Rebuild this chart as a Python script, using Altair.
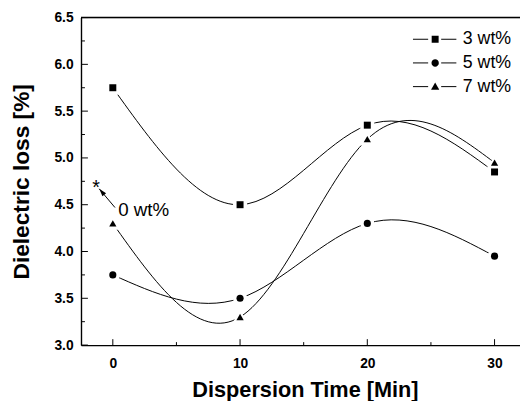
import altair as alt
import pandas as pd

# ---- data ----
times = [0, 10, 20, 30]
series_names = ["3 wt%", "5 wt%", "7 wt%"]
loss_3wt = [5.75, 4.50, 5.35, 4.85]
loss_5wt = [3.75, 3.50, 4.30, 3.95]
loss_7wt = [4.30, 3.30, 5.20, 4.95]

x_major = [0, 10, 20, 30]
x_minor = [5, 15, 25]
y_major = [3.0, 3.5, 4.0, 4.5, 5.0, 5.5, 6.0, 6.5]
y_minor = [3.25, 3.75, 4.25, 4.75, 5.25, 5.75, 6.25]

# annotation: 0 wt% reference value and its label/arrow
star_x = [-1.32]
star_y = [4.73]
label_x = [0.42]
label_y = [4.44]
label_text = ["0 wt%"]
arrow_x = [0.17, -1.07]
arrow_y = [4.47, 4.67]

FONT = "Liberation Sans"
W, H = 445, 332

rows = []
for name, vals in zip(series_names, [loss_3wt, loss_5wt, loss_7wt]):
    for t, v in zip(times, vals):
        rows.append({"time": t, "value": v, "series": name})
df = pd.DataFrame(rows)

xs = alt.Scale(domain=[-2.5, 32], nice=False, zero=False)
ys = alt.Scale(domain=[3.0, 6.5], nice=False, zero=False)

x_axis = alt.Axis(values=x_major, format="d", ticks=False, tickSize=0, grid=False,
                  labelFont=FONT, labelFontSize=14, labelFontWeight="bold", labelColor="black",
                  labelPadding=12, domainColor="black", domainWidth=1.4,
                  title="Dispersion Time [Min]", titleFont=FONT, titleFontSize=22,
                  titleFontWeight="bold", titleColor="black", titleX=227, titleY=45,
                  titleBaseline="middle", titleAlign="center")
y_axis = alt.Axis(values=y_major, format=".1f", ticks=False, tickSize=0, grid=False,
                  labelFont=FONT, labelFontSize=14, labelFontWeight="bold", labelColor="black",
                  labelPadding=8, domainColor="black", domainWidth=1.4,
                  title="Dielectric loss [%]", titleFont=FONT, titleFontSize=23,
                  titleFontWeight="bold", titleColor="black", titleX=-60, titleY=H / 2,
                  titleBaseline="middle", titleAlign="center", titleAngle=270)


def X(field):
    return alt.X(field, scale=xs, axis=x_axis)


def Y(field):
    return alt.Y(field, scale=ys, axis=y_axis)


base = alt.Chart(df).encode(x=X("time:Q"), y=Y("value:Q"))

lines = base.mark_line(interpolate="natural", color="black", strokeWidth=1).encode(
    detail="series:N")

shape_scale = alt.Scale(domain=series_names, range=["square", "circle", "triangle-up"])
size_scale = alt.Scale(domain=series_names, range=[50, 54, 64])
halo_scale = alt.Scale(domain=series_names, range=[150, 150, 170])

halo = base.mark_point(filled=True, color="white", opacity=1, stroke="white", strokeWidth=2).encode(
    shape=alt.Shape("series:N", scale=shape_scale, legend=None),
    size=alt.Size("series:N", scale=halo_scale, legend=None),
)
markers = base.mark_point(filled=True, color="black", opacity=1).encode(
    shape=alt.Shape("series:N", scale=shape_scale, legend=None),
    size=alt.Size("series:N", scale=size_scale, legend=None),
)

# legend: line part (stroked) + marker part (filled), overlaid at the same spot
LEG_X, LEG_Y, LEG_ROWPAD, LEG_CLIP = 336, 10, 0, 24
line_path = "M-1,0H-0.3M0.3,0H1"
marker_paths = [
    "M-0.16,-0.16H0.16V0.16H-0.16Z",
    "M-0.17,0A0.17,0.17,0,1,1,0.17,0A0.17,0.17,0,1,1,-0.17,0Z",
    "M0,-0.19L0.19,0.14L-0.19,0.14Z",
]
legend_lines = base.mark_point(filled=False, color="black", strokeWidth=1, opacity=0).encode(
    shape=alt.Shape("series:N", scale=alt.Scale(domain=series_names, range=[line_path] * 3),
                    legend=alt.Legend(title=None, orient="none", legendX=LEG_X, legendY=LEG_Y,
                                      padding=0, symbolSize=1936, symbolStrokeColor="black",
                                      symbolStrokeWidth=1, symbolOpacity=1, labelFont=FONT,
                                      labelFontSize=18, labelColor="black", labelOffset=6,
                                      rowPadding=LEG_ROWPAD, clipHeight=LEG_CLIP)),
)
legend_marks = base.mark_point(filled=True, color="black", opacity=0).encode(
    shape=alt.Shape("series:N", scale=alt.Scale(domain=series_names, range=marker_paths),
                    legend=alt.Legend(title=None, orient="none", legendX=LEG_X, legendY=LEG_Y,
                                      padding=0, symbolSize=1936, symbolFillColor="black",
                                      symbolOpacity=1, labelFont=FONT, labelFontSize=18,
                                      labelColor="black", labelOpacity=0, labelOffset=6,
                                      rowPadding=LEG_ROWPAD, clipHeight=LEG_CLIP)),
)


# ticks (inward)
def xticks(vals, length):
    return alt.Chart(pd.DataFrame({"time": vals})).mark_rule(color="black", strokeWidth=1).encode(
        x=X("time:Q"), y=alt.value(H), y2=alt.value(H - length))


def yticks(vals, length):
    return alt.Chart(pd.DataFrame({"value": vals})).mark_rule(color="black", strokeWidth=1).encode(
        y=Y("value:Q"), x=alt.value(0), x2=alt.value(length))


top_border = alt.Chart(pd.DataFrame({"a": [0]})).mark_rule(color="black", strokeWidth=1.4).encode(
    x=alt.value(0), x2=alt.value(W), y=alt.value(0))

star = alt.Chart(pd.DataFrame({"time": star_x, "value": star_y})).mark_text(
    text="*", font=FONT, fontSize=20, color="black", baseline="alphabetic", dy=11).encode(
    x=X("time:Q"), y=Y("value:Q"))

label = alt.Chart(pd.DataFrame({"time": label_x, "value": label_y, "t": label_text})).mark_text(
    font=FONT, fontSize=19, color="black", align="left", baseline="middle").encode(
    x=X("time:Q"), y=Y("value:Q"), text="t:N")

arrow_df = pd.DataFrame({"time": arrow_x, "value": arrow_y, "o": [0, 1]})
arrow_line = alt.Chart(arrow_df).mark_line(color="black", strokeWidth=1).encode(
    x=X("time:Q"), y=Y("value:Q"), order="o:Q")
arrow_head = alt.Chart(arrow_df.iloc[[1]]).mark_point(
    shape="M0,0L0.3,1L-0.3,1Z", filled=True, color="black", opacity=1, size=256, angle=320).encode(
    x=X("time:Q"), y=Y("value:Q"))

chart = alt.layer(
    top_border, xticks(x_major, 6), xticks(x_minor, 3), yticks(y_major, 7), yticks(y_minor, 4),
    lines, halo, markers, legend_lines, legend_marks, star, label, arrow_line, arrow_head,
).resolve_scale(shape="independent", size="independent").properties(
    width=W, height=H,
    autosize=alt.AutoSizeParams(type="none"),
    padding={"left": 74, "top": 7, "right": 0, "bottom": 54},
).configure_view(stroke=None).configure(background="white")

chart.save("out.html", embed_options={"renderer": "svg", "actions": False})
